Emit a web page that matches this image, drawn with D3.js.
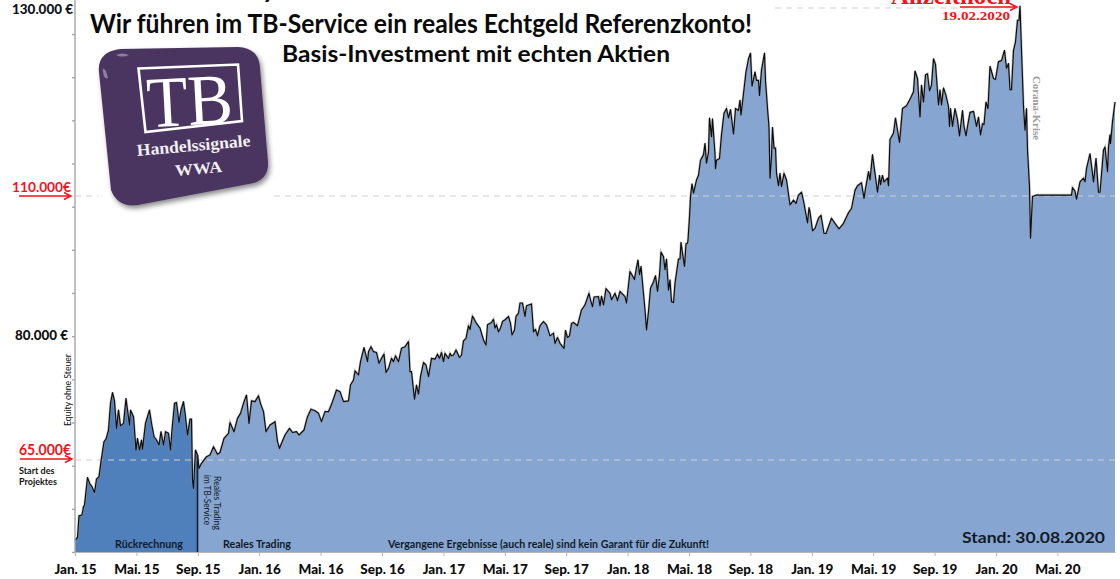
<!DOCTYPE html>
<html>
<head>
<meta charset="utf-8">
<script src="https://cdn.jsdelivr.net/npm/d3@7"></script>
<style>
    html, body { margin: 0; padding: 0; background: #fff; }
    svg { display: block; }
    text { font-family: Lato, "Open Sans", sans-serif; }
    .serif { font-family: "Liberation Serif", serif; }
</style>
</head>
<body>
<div class="wrapper"></div>
<script>
// [position on the time axis, equity in thousand euro]
const backtest = [
    [0,55.4],[5,55.7],[8,58.3],[14,58.4],[17,59.4],[19,59.6],[25,62.9],[30,62.1],[33,61.9],[39,61.1],
    [43,62.7],[48,63.0],[52,64.8],[58,67.2],[62,67.5],[67,68.6],[71,71.8],[75,73.1],[79,72.1],[83,68.8],
    [87,71.0],[91,69.1],[97,69.4],[102,72.4],[109,69.2],[111,71.0],[117,70.2],[122,66.2],[125,67.6],[129,66.2],
    [133,67.4],[135,66.3],[141,69.4],[149,71.0],[153,69.4],[158,67.8],[163,67.4],[168,66.8],[172,68.4],[177,66.8],
    [181,68.4],[187,68.2],[191,66.2],[194,68.6],[199,71.8],[203,71.9],[208,69.5],[212,71.0],[217,72.0],[221,70.2],
    [225,68.0],[230,69.9],[233,69.9],[235,62.6],[237,61.6],[241,66.2],[245,65.6]
];
const realTrading = [
    [245,65.6],[248,64.0],[253,64.6],[263,65.4],[270,65.6],[277,66.6],[285,65.7],[290,65.9],[298,67.6],[307,68.2],
    [310,69.5],[318,68.4],[325,70.0],[331,70.6],[338,72.0],[343,72.8],[348,69.4],[353,72.1],[360,72.0],[367,72.7],
    [371,71.8],[377,70.8],[382,68.4],[390,69.2],[400,69.6],[405,67.2],[409,66.4],[413,67.0],[420,68.0],[429,68.8],
    [435,68.3],[443,68.4],[448,68.0],[458,68.6],[465,70.2],[472,71.1],[480,70.9],[487,70.6],[493,69.6],[500,70.8],
    [507,70.8],[515,72.0],[523,73.4],[530,73.2],[537,72.0],[547,72.1],[551,74.0],[557,74.6],[560,75.7],[567,75.2],
    [571,76.8],[578,78.5],[585,76.8],[587,78.0],[592,78.6],[597,78.0],[603,77.9],[608,76.6],[613,77.2],[618,77.7],
    [622,75.5],[627,76.0],[633,77.2],[637,76.8],[641,77.5],[647,76.8],[653,78.4],[660,78.6],[667,79.2],[670,75.6],
    [673,75.6],[679,72.3],[683,74.0],[687,72.9],[691,75.0],[697,76.7],[702,76.4],[707,75.0],[713,77.2],[720,77.1],
    [725,77.7],[729,77.2],[733,77.9],[737,76.8],[740,77.8],[747,77.2],[750,77.8],[753,77.5],[757,77.6],[762,78.2],
    [769,77.3],[773,77.6],[777,79.3],[782,79.6],[787,82.0],[790,81.2],[795,84.1],[803,82.5],[810,81.5],[817,79.4],
    [822,78.8],[825,82.2],[833,82.7],[837,83.4],[840,81.5],[843,82.2],[847,80.7],[851,81.5],[855,82.9],[860,83.3],
    [867,84.0],[871,82.5],[874,80.0],[879,81.1],[882,84.0],[887,84.7],[890,86.9],[895,86.9],[900,84.0],[903,86.3],
    [913,86.7],[917,80.7],[921,81.2],[925,79.9],[930,82.0],[937,82.9],[943,82.2],[950,79.9],[957,80.4],[960,79.0],
    [965,79.7],[970,79.0],[978,78.4],[981,81.0],[985,79.7],[989,79.9],[993,82.5],[997,82.7],[1005,82.0],[1013,85.4],
    [1020,86.5],[1028,89.0],[1031,87.6],[1035,86.1],[1038,88.2],[1047,88.3],[1050,86.3],[1053,88.4],[1057,86.5],[1062,90.0],
    [1070,89.0],[1073,87.6],[1080,89.0],[1085,87.4],[1090,89.4],[1100,88.3],[1103,86.9],[1110,93.7],[1119,92.0],[1123,94.6],
    [1126,96.2],[1129,93.0],[1132,94.8],[1140,85.4],[1143,81.1],[1147,85.1],[1151,90.1],[1157,91.5],[1161,92.8],[1165,89.4],
    [1169,93.0],[1172,97.9],[1177,96.9],[1180,94.1],[1183,96.4],[1187,89.7],[1190,91.9],[1193,87.2],[1197,87.0],[1200,91.2],
    [1207,96.4],[1210,96.4],[1212,100.0],[1215,97.7],[1219,94.8],[1222,99.7],[1225,99.8],[1226,100.5],[1229,105.5],[1231,109.9],
    [1234,111.3],[1237,110.3],[1243,111.7],[1247,112.2],[1251,113.8],[1257,114.4],[1260,115.6],[1263,113.5],[1267,114.7],[1269,118.3],
    [1273,116.3],[1275,118.2],[1280,114.5],[1281,112.9],[1283,113.8],[1289,114.0],[1293,116.5],[1298,118.8],[1303,119.3],[1307,118.3],
    [1311,119.2],[1317,116.6],[1321,119.3],[1327,119.1],[1330,120.2],[1332,118.6],[1337,120.9],[1342,123.2],[1347,124.6],[1351,125.2],
    [1354,121.7],[1357,122.4],[1360,123.2],[1363,122.3],[1367,122.3],[1369,120.7],[1373,123.4],[1379,125.2],[1381,122.3],[1385,119.3],
    [1388,117.3],[1390,111.9],[1393,114.2],[1395,117.3],[1398,115.1],[1401,115.1],[1403,112.4],[1407,111.1],[1410,112.4],[1413,111.0],
    [1418,112.4],[1423,111.7],[1430,108.1],[1437,109.1],[1442,108.4],[1447,110.1],[1453,110.4],[1458,108.4],[1465,104.2],[1468,107.5],
    [1470,106.6],[1475,102.5],[1480,103.0],[1487,105.2],[1492,105.8],[1498,101.9],[1502,101.9],[1513,105.2],[1520,104.1],[1528,102.9],
    [1537,104.1],[1547,106.4],[1553,107.3],[1560,110.6],[1565,111.1],[1573,111.4],[1578,109.5],[1581,110.8],[1587,112.6],[1590,111.7],
    [1595,114.4],[1600,112.4],[1605,110.4],[1609,112.2],[1611,111.2],[1615,112.2],[1618,111.5],[1625,111.9],[1627,111.1],[1630,116.0],
    [1637,116.7],[1641,118.3],[1649,115.7],[1655,119.3],[1663,119.6],[1671,120.4],[1677,121.1],[1680,123.3],[1685,122.5],[1690,118.4],
    [1693,121.8],[1697,120.0],[1701,122.9],[1705,123.0],[1709,121.2],[1713,121.8],[1717,124.6],[1721,124.0],[1727,119.7],[1730,121.3],
    [1733,119.7],[1737,121.5],[1742,120.7],[1747,119.5],[1749,117.4],[1751,119.3],[1755,117.4],[1760,119.3],[1765,118.1],[1769,116.4],
    [1775,119.1],[1778,117.4],[1782,116.4],[1785,117.4],[1790,118.9],[1797,119.0],[1803,117.4],[1807,118.4],[1811,116.5],[1815,117.7],
    [1818,117.6],[1822,120.0],[1826,119.3],[1830,123.8],[1837,122.5],[1841,122.4],[1847,124.3],[1853,124.4],[1859,125.5],[1863,123.6],
    [1867,124.1],[1870,121.3],[1873,121.3],[1877,125.5],[1881,126.4],[1885,128.7],[1888,128.7],[1890,130.2],[1893,125.5],[1897,119.5],
    [1900,117.0],[1903,119.3],[1905,114.9],[1909,111.0],[1911,100.9],[1915,109.9],[1923,110.1],[1993,110.1],[1995,110.9],[2000,110.5],
    [2003,109.3],[2010,111.5],[2017,111.9],[2020,111.5],[2023,112.9],[2030,114.5],[2037,111.5],[2042,114.0],[2047,110.4],[2050,110.4],
    [2057,114.9],[2060,115.2],[2065,112.6],[2067,115.2],[2070,116.5],[2071,115.6],[2075,117.9],[2080,120.0]
];

const tickLabels = ['Jan. 15', 'Mai. 15', 'Sep. 15', 'Jan. 16', 'Mai. 16', 'Sep. 16', 'Jan. 17', 'Mai. 17', 'Sep. 17',
    'Jan. 18', 'Mai. 18', 'Sep. 18', 'Jan. 19', 'Mai. 19', 'Sep. 19', 'Jan. 20', 'Mai. 20'];
const tickStep = 122.8;
const labelledLevels = [65, 80, 110, 130];
const levelLabels = ['65.000€', '80.000 €', '110.000€', '130.000 €'];
const axisDivisions = d3.range(0, 13);

const dimentions = {
    width: 1120,
    height: 579,
    margin: { top: 8, right: 5, bottom: 27, left: 75 },
};
dimentions.baseline = dimentions.height - dimentions.margin.bottom;

const wrapper = d3.select('.wrapper')
    .append('svg')
    .attr('width', dimentions.width)
    .attr('height', dimentions.height);

const xScale = d3.scaleLinear()
    .domain([0, 2080])
    .range([dimentions.margin.left, dimentions.width - dimentions.margin.right]);

// the printed levels are not evenly spaced on the original axis
const yScale = d3.scaleLinear()
    .domain(labelledLevels)
    .range([460, 335, 196, dimentions.margin.top]);

// tick marks on the left axis are evenly spaced and have no labels
const divisionScale = d3.scaleLinear()
    .domain([0, 12])
    .range([dimentions.baseline, 34]);

const area = d3.area()
    .x(d => xScale(d[0]))
    .y0(dimentions.baseline)
    .y1(d => yScale(d[1]));

const line = d3.line()
    .x(d => xScale(d[0]))
    .y(d => yScale(d[1]));

wrapper.append('path').attr('d', area(backtest)).attr('fill', '#4f80bb');
wrapper.append('path').attr('d', area(realTrading)).attr('fill', '#86a6d1');

// dashed helper lines
const dashed = (from, to, level) => wrapper.append('line')
    .attr('x1', xScale(from)).attr('x2', xScale(to))
    .attr('y1', yScale(level)).attr('y2', yScale(level))
    .attr('stroke', '#cfcfcf')
    .attr('stroke-width', 1)
    .attr('stroke-dasharray', '6 5');
dashed(0, 46, 110);
dashed(398, 2080, 110);
dashed(0, 2080, 65);
dashed(1400, 1890, 130);

// soft halo, then the black equity line
const allPoints = backtest.concat(realTrading.slice(1));
wrapper.append('path').attr('d', line(allPoints))
    .attr('fill', 'none').attr('stroke', '#8f8f8f').attr('stroke-opacity', 0.55).attr('stroke-width', 2.4);
wrapper.append('path').attr('d', line(allPoints))
    .attr('fill', 'none').attr('stroke', '#0c0c0c').attr('stroke-width', 1.15).attr('stroke-linejoin', 'round');

// start of real trading
wrapper.append('line')
    .attr('x1', xScale(245)).attr('x2', xScale(245))
    .attr('y1', yScale(65.6)).attr('y2', dimentions.baseline)
    .attr('stroke', '#10202e').attr('stroke-width', 1.6);

const yAxis = d3.axisLeft(divisionScale)
    .tickValues(axisDivisions)
    .tickFormat('')
    .tickSize(3)
    .tickSizeOuter(0);
const yAxisGroup = wrapper.append('g')
    .attr('transform', `translate(${dimentions.margin.left}, 0)`)
    .call(yAxis);
yAxisGroup.select('.domain').attr('d', `M0,0V${dimentions.baseline}`);
yAxisGroup.selectAll('line, path').attr('stroke', '#a6a6a6').attr('stroke-width', 1.4);

const xAxis = d3.axisBottom(xScale)
    .tickValues(tickLabels.map((_, i) => i * tickStep))
    .tickFormat((_, i) => tickLabels[i])
    .tickSize(4)
    .tickSizeOuter(0);
const xAxisGroup = wrapper.append('g')
    .attr('transform', `translate(0, ${dimentions.baseline})`)
    .call(xAxis);
xAxisGroup.selectAll('line, path').attr('stroke', '#b5b5b5').attr('stroke-width', 1);
xAxisGroup.selectAll('text')
    .attr('y', 12).attr('dy', '0.71em')
    .style('font-family', 'Lato, sans-serif')
    .style('font-size', '13.5px').style('font-weight', 900).attr('fill', '#0d0d0d');

const label = (txt, x, y, size, opts = {}) => wrapper.append('text')
    .text(txt)
    .attr('transform', `translate(${x}, ${y}) rotate(${opts.rotate || 0})`)
    .attr('text-anchor', opts.anchor || 'start')
    .attr('font-size', size)
    .attr('font-weight', opts.weight || 400)
    .attr('class', opts.cls || null)
    .attr('textLength', opts.len || null)
    .attr('lengthAdjust', opts.len ? 'spacingAndGlyphs' : null)
    .attr('fill', opts.fill || '#111');

const arrow = (x1, x2, y) => {
    wrapper.append('path')
        .attr('d', `M${x1},${y}H${x2 - 2}M${x2 - 7},${y - 3.5}L${x2},${y}L${x2 - 7},${y + 3.5}`)
        .attr('fill', 'none').attr('stroke', '#f5121a').attr('stroke-width', 1.4);
};

// level labels
label(levelLabels[3], 12, yScale(130) + 6, 13, { weight: 900, len: 61, fill: '#10131c' });
label(levelLabels[2], 12, 192, 14, { weight: 700, len: 59, fill: '#f5121a' });
label(levelLabels[1], 15, yScale(80) + 5, 13, { weight: 900, len: 53 });
label(levelLabels[0], 19, 455, 15, { weight: 700, len: 52, fill: '#f5121a' });
arrow(19, 71, 196);
arrow(20, 72, 459);

label('Start des', 19, 474, 9, { weight: 700 });
label('Projektes', 19, 485, 9, { weight: 700 });
label('Equity ohne Steuer', 71, 426, 8.5, { rotate: -90, len: 72 });

// headline
label('y', 262, -2, 27, { weight: 700 });
label('Wir führen im TB-Service ein reales Echtgeld Referenzkonto!', 90, 33, 26, { weight: 700, len: 662, fill: '#0a0a0a' });
label('Basis-Investment mit echten Aktien', 282, 62, 23.5, { weight: 700, len: 388, fill: '#0a0a0a' });

// all-time high note, cut off by the top edge
label('Allzeithoch', 891, 4, 25, { weight: 700, cls: 'serif', len: 120, fill: '#f5121a' });
arrow(960, 1017, 7);
label('19.02.2020', 942, 20, 11.5, { weight: 700, cls: 'serif', len: 68, fill: '#f5121a' });
label('Corana-Krise', 1033, 76, 10.5, { rotate: 90, cls: 'serif', weight: 700, len: 64, fill: '#9a9a9a' });

// notes inside the area
label('Rückrechnung', 115, 548, 10.5, { weight: 700, len: 68, fill: '#111b28' });
label('Reales Trading', 223, 548, 10.5, { weight: 700, len: 68, fill: '#111b28' });
label('Vergangene Ergebnisse (auch reale) sind kein Garant für die Zukunft!', 388, 548, 10.5, { weight: 700, len: 321, fill: '#111b28' });
label('Stand: 30.08.2020', 962, 543, 16, { weight: 700, len: 143, fill: '#111b28' });
label('Reales Trading', 214, 476, 9, { rotate: 90, len: 54, fill: '#111b28' });
label('im TB-Service', 204, 475, 9, { rotate: 90, len: 50, fill: '#111b28' });

// TB logo badge
const defs = wrapper.append('defs');
defs.append('filter').attr('id', 'badgeShadow')
    .attr('x', '-10%').attr('y', '-10%').attr('width', '125%').attr('height', '125%')
    .append('feDropShadow')
    .attr('dx', 2).attr('dy', 3).attr('stdDeviation', 2.5)
    .attr('flood-color', '#000').attr('flood-opacity', 0.45);

const logo = wrapper.append('g');
logo.append('path')
    .attr('d', 'M120,49 L238,47 Q259,48 260,68 L268,162 Q269,178 254,183 L138,205 Q118,208 111,190 L99,72 Q97,52 120,49 Z')
    .attr('fill', '#49355f')
    .attr('filter', 'url(#badgeShadow)');
logo.append('path')
    .attr('d', 'M103,72 Q102,66 106,71 L108,78 Q104,80 103,72 Z M116,55 Q122,52 129,55 Q122,58 116,55 Z')
    .attr('fill', '#8c7fa1');
logo.append('path')
    .attr('d', 'M138.5,68.5 L238,64.5 L242,121 L145.5,132 Z')
    .attr('fill', 'none').attr('stroke', '#fff').attr('stroke-width', 2.6);
label('TB', 0, 0, 72, { cls: 'serif', anchor: 'middle', fill: '#fff', len: 86 })
    .attr('transform', 'translate(191, 125) rotate(-3)');
label('Handelssignale', 0, 0, 17, { cls: 'serif', weight: 700, anchor: 'middle', fill: '#f1eff3', len: 114 })
    .attr('transform', 'translate(194, 151) rotate(-5)');
label('WWA', 0, 0, 16, { cls: 'serif', weight: 700, anchor: 'middle', fill: '#f1eff3', len: 47 })
    .attr('transform', 'translate(199, 174) rotate(-5)');
</script>
</body>
</html>
